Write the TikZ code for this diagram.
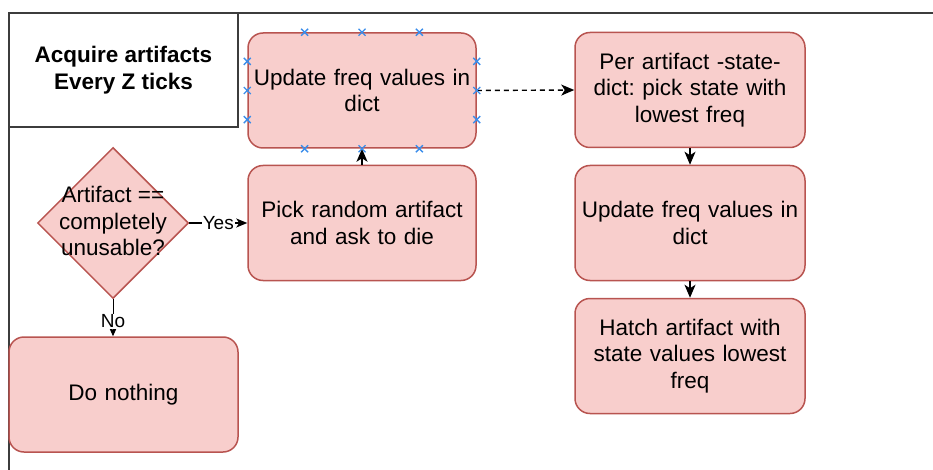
\documentclass[tikz,border=0pt]{standalone}
\usepackage{fontspec}
\setmainfont{Liberation Sans}
\usetikzlibrary{shapes.geometric,arrows.meta,calc}

\definecolor{boxfill}{HTML}{F8CECC}
\definecolor{boxline}{HTML}{B85450}
\definecolor{frameline}{HTML}{3C3C3C}
\definecolor{handle}{HTML}{3A8DEB}

\tikzset{
  txt/.style={font=\fontsize{22.5}{26.5}\selectfont\frenchspacing, align=center},
  stepbox/.style={txt, draw=boxline, fill=boxfill, line width=1.5pt,
    rounded corners=15pt, minimum width=228pt, minimum height=115pt,
    text width=218pt, inner sep=0pt},
  decision/.style={diamond, draw=boxline, fill=boxfill, line width=1.5pt,
    minimum width=151pt, minimum height=151pt, inner sep=0pt},
  header/.style={txt, font=\fontsize{22.5}{26.5}\selectfont\bfseries,
    draw=frameline, line width=2pt, minimum width=229pt, minimum height=114pt,
    inner sep=0pt},
  flow/.style={draw=black, line width=1.4pt,
    -{Stealth[length=13pt,width=11pt,inset=3.5pt]}},
  lbl/.style={font=\fontsize{19}{22}\selectfont, fill=white, inner sep=1pt},
  xmark/.style={draw=handle, line width=1.3pt},
}

\begin{document}
\begin{tikzpicture}[x=1pt, y=-1pt]
  \useasboundingbox (0,0) rectangle (933,470);

  % lane frame and its header
  \coordinate (lanetl) at (9,13);
  \coordinate (laneright) at (933,13);
  \coordinate (lanebottom) at (9,470);
  \draw[frameline, line width=2pt] (laneright) -- (lanetl) -- (lanebottom);
  \node[header] (head) at (123.5,70) {Acquire artifacts\\Every Z ticks};

  % process steps
  \node[stepbox] (upd1)    at (362,90.5)  {Update freq values in\\dict};
  \node[stepbox] (pick)    at (362,223)   {Pick random artifact\\and ask to die};
  \node[stepbox, minimum width=230pt] (per)   at (690,90)  {Per artifact -state-\\dict: pick state with\\lowest freq};
  \node[stepbox, minimum width=230pt] (upd2)  at (690,223) {Update freq values in\\dict};
  \node[stepbox, minimum width=230pt] (hatch) at (690,356) {Hatch artifact with\\state values lowest\\freq};
  \node[stepbox, minimum width=229pt] (nothing) at (123.5,394.5) {Do nothing};

  % decision
  \node[decision] (dec) at (113,223) {};
  \node[txt, inner sep=0pt] (dectext) at ([yshift=2pt]dec.center) {Artifact ==\\completely\\unusable?};

  % connectors
  \draw[flow, -{Stealth[length=11pt,width=9pt,inset=3pt]}] (dec.east) -- node[lbl] {Yes} (pick.west);
  \coordinate (notop) at (dec.south |- nothing.north);
  \draw[flow, line width=1pt, -{Stealth[length=9pt,width=8pt,inset=2.5pt]}] (dec.south) -- node[lbl, pos=0.6] {No} (notop);
  \draw[flow] (pick.north) -- (upd1.south);
  \draw[flow, dashed, dash pattern=on 5pt off 4pt] (upd1.east) -- (per.west);
  \draw[flow] (per.south) -- (upd2.north);
  \draw[flow] (upd2.south) -- (hatch.north);

  % selection handles on the selected step
  \foreach \f in {0.25,0.5,0.75} {
    \coordinate (ht) at ($(upd1.north west)!\f!(upd1.north east)$);
    \coordinate (hb) at ($(upd1.south west)!\f!(upd1.south east)$);
    \coordinate (hl) at ($(upd1.north west)!\f!(upd1.south west)$);
    \coordinate (hr) at ($(upd1.north east)!\f!(upd1.south east)$);
    \foreach \h in {ht,hb,hl,hr}
      \draw[xmark] (\h) +(-3.5,-3.5) -- +(3.5,3.5) +(-3.5,3.5) -- +(3.5,-3.5);
  }
\end{tikzpicture}
\end{document}
